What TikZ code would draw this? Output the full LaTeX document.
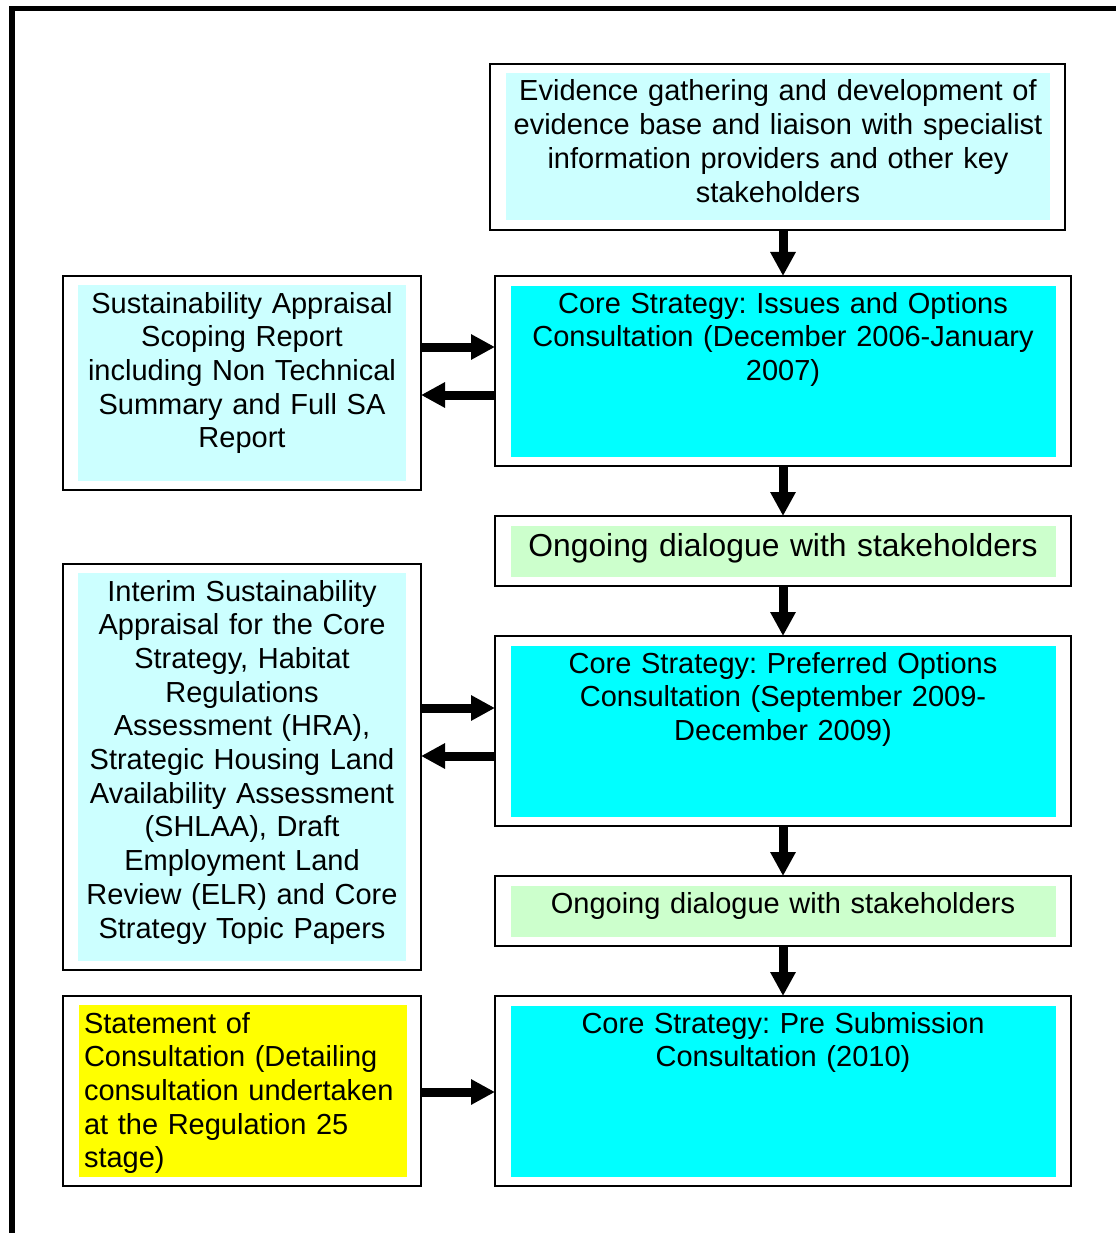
\documentclass[tikz,border=0pt]{standalone}
\usepackage{fontspec}
\setmainfont{Liberation Sans}
\usetikzlibrary{arrows.meta}
\definecolor{lcyan}{HTML}{CCFFFF}
\definecolor{cyanf}{HTML}{00FFFF}
\definecolor{lgreen}{HTML}{CCFFCC}
\definecolor{yell}{HTML}{FFFF00}
\frenchspacing
\begin{document}
\begin{tikzpicture}[x=1pt,y=-1pt,
  frame/.style={draw=black,line width=2pt,anchor=north west,inner sep=0pt,outer sep=0pt},
  panel/.style={anchor=north west,inner sep=0pt,outer sep=0pt},
  txt/.style={anchor=base,inner sep=0pt,outer sep=0pt,align=center,font=\fontsize{29pt}{33.7pt}\selectfont},
  blockarrow/.style={line width=9pt,-{Triangle[length=24pt,width=24pt]}},
]
\useasboundingbox (0,0) rectangle (1116,1233);
\fill[white] (0,0) rectangle (1116,1233);
% page border
\draw[line width=5.5pt] (12,1233) -- (12,8.5) -- (1116,8.5);

% ---------- top box
\node[frame,minimum width=575pt,minimum height=166pt] (top) at (490,64) {};
\node[panel,fill=lcyan,minimum width=544pt,minimum height=147pt] (topfill) at (506,73) {};
\node[txt,text width=600pt] (toptext) at (778,101) {Evidence gathering and development of\\evidence base and liaison with specialist\\information providers and other key\\stakeholders};

% ---------- issues and options
\node[frame,minimum width=576pt,minimum height=190pt] (issues) at (495,276) {};
\node[panel,fill=cyanf,minimum width=545pt,minimum height=171pt] (issuesfill) at (511,286) {};
\node[txt,text width=600pt] (issuestext) at (783,313) {Core Strategy: Issues and Options\\Consultation (December 2006-January\\2007)};

% ---------- SA scoping
\node[frame,minimum width=358pt,minimum height=214pt] (sa) at (63,276) {};
\node[panel,fill=lcyan,minimum width=328pt,minimum height=196pt] (safill) at (78,285) {};
\node[txt,text width=360pt] (satext) at (242,313) {Sustainability Appraisal\\Scoping Report\\including Non Technical\\Summary and Full SA\\Report};

% ---------- ongoing 1
\node[frame,minimum width=576pt,minimum height=70pt] (ongo1) at (495,516) {};
\node[panel,fill=lgreen,minimum width=545pt,minimum height=51pt] (ongo1fill) at (511,526) {};
\node[txt,text width=600pt,font=\fontsize{31.8pt}{36pt}\selectfont] (ongo1text) at (783,556) {Ongoing dialogue with stakeholders};

% ---------- interim
\node[frame,minimum width=358pt,minimum height=406pt] (interim) at (63,564) {};
\node[panel,fill=lcyan,minimum width=328pt,minimum height=388pt] (interimfill) at (78,573) {};
\node[txt,text width=360pt] (interimtext) at (242,601) {Interim Sustainability\\Appraisal for the Core\\Strategy, Habitat\\Regulations\\Assessment (HRA),\\Strategic Housing Land\\Availability Assessment\\(SHLAA), Draft\\Employment Land\\Review (ELR) and Core\\Strategy Topic Papers};

% ---------- preferred options
\node[frame,minimum width=576pt,minimum height=190pt] (pref) at (495,636) {};
\node[panel,fill=cyanf,minimum width=545pt,minimum height=171pt] (preffill) at (511,646) {};
\node[txt,text width=600pt] (preftext) at (783,673) {Core Strategy: Preferred Options\\Consultation (September 2009-\\December 2009)};

% ---------- ongoing 2
\node[frame,minimum width=576pt,minimum height=70pt] (ongo2) at (495,876) {};
\node[panel,fill=lgreen,minimum width=545pt,minimum height=51pt] (ongo2fill) at (511,886) {};
\node[txt,text width=600pt] (ongo2text) at (783,913) {Ongoing dialogue with stakeholders};

% ---------- statement
\node[frame,minimum width=358pt,minimum height=190pt] (stmt) at (63,996) {};
\node[panel,fill=yell,minimum width=328pt,minimum height=172pt] (stmtfill) at (79,1005) {};
\node[txt,anchor=base west,align=left,text width=340pt] (stmttext) at (84,1033) {Statement of\\Consultation (Detailing\\consultation undertaken\\at the Regulation 25\\stage)};

% ---------- pre submission
\node[frame,minimum width=576pt,minimum height=190pt] (presub) at (495,996) {};
\node[panel,fill=cyanf,minimum width=545pt,minimum height=171pt] (presubfill) at (511,1006) {};
\node[txt,text width=600pt] (presubtext) at (783,1033) {Core Strategy: Pre Submission\\Consultation (2010)};

% ---------- arrows
\draw[blockarrow] (top.south -| issues.north) -- (issues.north);
\draw[blockarrow] (issues.south) -- (ongo1.north);
\draw[blockarrow] (ongo1.south) -- (pref.north);
\draw[blockarrow] (pref.south) -- (ongo2.north);
\draw[blockarrow] (ongo2.south) -- (presub.north);

\coordinate (ia) at ([yshift=24pt]issues.west);
\coordinate (ib) at ([yshift=-24pt]issues.west);
\draw[blockarrow] (ia -| sa.east) -- (ia);
\draw[blockarrow] (ib) -- (ib -| sa.east);

\coordinate (pa) at ([yshift=23pt]pref.west);
\coordinate (pb) at ([yshift=-25pt]pref.west);
\draw[blockarrow] (pa -| interim.east) -- (pa);
\draw[blockarrow] (pb) -- (pb -| interim.east);

\coordinate (sb) at ([yshift=-1pt]presub.west);
\draw[blockarrow] (sb -| stmt.east) -- (sb);
\end{tikzpicture}
\end{document}
